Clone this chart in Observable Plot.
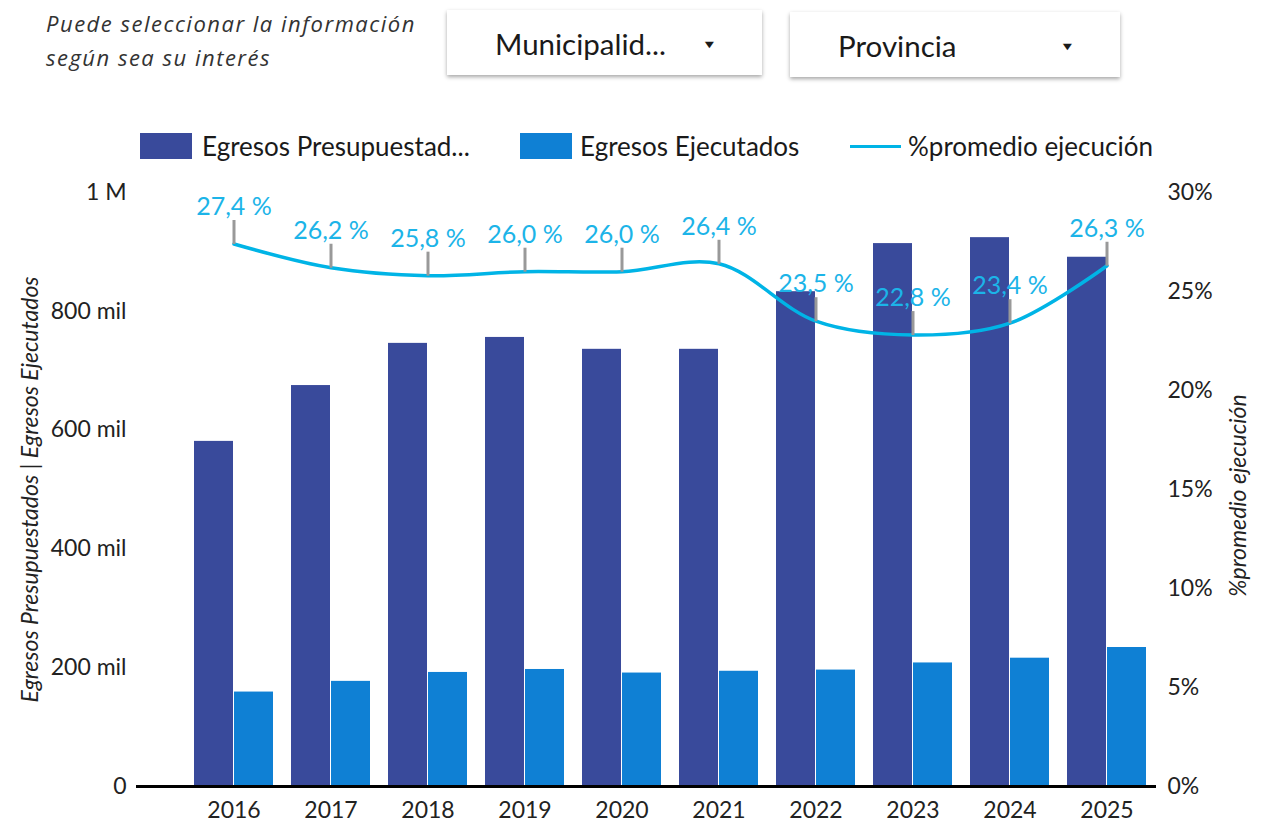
<!DOCTYPE html>
<html>
<head>
<meta charset="utf-8">
<script src="https://cdn.jsdelivr.net/npm/d3@7"></script>
<script src="https://cdn.jsdelivr.net/npm/@observablehq/plot@0.6"></script>
<style>
  html, body { margin: 0; padding: 0; background: #fff; }
  #root { position: relative; width: 1265px; height: 827px; overflow: hidden; font-family: Lato, "Open Sans", sans-serif; }
  .intro { position: absolute; left: 46px; top: 6px; font-family: "Open Sans", sans-serif; font-weight: 400; font-style: italic; font-size: 22px; line-height: 34px; color: #333; letter-spacing: 1.5px; white-space: nowrap; }
  .dd { position: absolute; background: #fff; box-shadow: 0 2px 4px rgba(0,0,0,0.35); font-size: 29.5px; color: #1a1a1a; }
  .dd .t { position: absolute; top: 50%; transform: translateY(-50%); white-space: nowrap; }
  .dd .a { position: absolute; top: 50%; transform: translateY(-50%) scaleX(1.4); font-size: 11px; }
  .legend { position: absolute; top: 130px; left: 0; height: 32px; font-size: 26px; color: #1a1a1a; }
  .legend .sw { position: absolute; top: 3px; width: 52px; height: 26px; }
  .legend .ln { position: absolute; top: 15px; width: 51px; height: 3px; }
  .legend .lb { position: absolute; top: 0; line-height: 32px; white-space: nowrap; }
  #chart { position: absolute; left: 0; top: 170px; }
</style>
</head>
<body>
<div id="root">
  <div class="intro">Puede seleccionar la información<br>según sea su interés</div>
  <div class="dd" style="left:447px;top:10px;width:315px;height:65px;"><span class="t" style="left:48px;">Municipalid...</span><span class="a" style="left:257px;">&#9660;</span></div>
  <div class="dd" style="left:790px;top:12px;width:330px;height:65px;"><span class="t" style="left:48px;">Provincia</span><span class="a" style="left:272px;">&#9660;</span></div>
  <div class="legend">
    <div class="sw" style="left:140px;background:#394a9b;"></div>
    <div class="lb" style="left:202px;">Egresos Presupuestad...</div>
    <div class="sw" style="left:520px;background:#0f80d4;"></div>
    <div class="lb" style="left:580px;">Egresos Ejecutados</div>
    <div class="ln" style="left:850px;background:#00b4e6;"></div>
    <div class="lb" style="left:908px;">%promedio ejecución</div>
  </div>
  <div id="chart"></div>
</div>
<script>
const years = ["2016","2017","2018","2019","2020","2021","2022","2023","2024","2025"];
const presupuestados = [581000, 675000, 746000, 756000, 736000, 736000, 833000, 914000, 924000, 891000];
const ejecutados = [159000, 177000, 192000, 197000, 191000, 194000, 196000, 208000, 216000, 234000];
const pctEjecucion = [27.4, 26.2, 25.8, 26.0, 26.0, 26.4, 23.5, 22.8, 23.4, 26.3];
const leftTicks = [0, 200000, 400000, 600000, 800000, 1000000];
const rightTicks = [0, 5, 10, 15, 20, 25, 30];
const pctMax = 30;
const yMax = 1000000;

const colorPres = "#394a9b";
const colorEjec = "#0f80d4";
const colorLine = "#00b4e6";

const rows = years.map((year, i) => ({
  year,
  pres: presupuestados[i],
  ejec: ejecutados[i],
  pct: pctEjecucion[i],
  pctY: pctEjecucion[i] / pctMax * yMax
}));

const tickSymbol = { draw(ctx) { ctx.moveTo(0, 0); ctx.lineTo(0, -24); } };

const chart = Plot.plot({
  width: 1265,
  height: 657,
  marginLeft: 136,
  marginRight: 109,
  marginTop: 22,
  marginBottom: 41,
  style: { fontFamily: "Lato, 'Open Sans', sans-serif", fontSize: "23px", color: "#222", background: "transparent" },
  x: { domain: years, paddingInner: 0.187, paddingOuter: 0.0935, insetLeft: 48, label: null },
  y: { domain: [0, yMax], label: null },
  marks: [
    Plot.barY(rows, { x: "year", y: "pres", fill: colorPres, insetRight: 40, insetLeft: 0 }),
    Plot.barY(rows, { x: "year", y: "ejec", fill: colorEjec, insetLeft: 40, insetRight: 0 }),
    Plot.ruleY([0], { stroke: "#000", strokeWidth: 3 }),
    Plot.line(rows, { x: "year", y: "pctY", stroke: colorLine, strokeWidth: 3.5, curve: "catmull-rom" }),
    Plot.dot(rows, { x: "year", y: "pctY", symbol: tickSymbol, stroke: "#999", strokeWidth: 3, fill: "none" }),
    Plot.text(rows, { x: "year", y: "pctY", text: d => d.pct.toFixed(1).replace(".", ",") + " %", dy: -37, fill: "#1cb4e8", fontSize: 25, stroke: "none" }),
    Plot.axisX({ tickSize: 0, tickPadding: 15, label: null, fontSize: 23 }),
    Plot.axisY(leftTicks, { anchor: "left", tickSize: 0, tickPadding: 10, label: null, fontSize: 23,
      tickFormat: v => v === 0 ? "0" : v >= 1000000 ? (v / 1000000) + " M" : (v / 1000) + " mil" }),
    Plot.axisY(rightTicks.map(p => p / pctMax * yMax), { anchor: "right", tickSize: 0, tickPadding: 11, label: null, fontSize: 23,
      tickFormat: v => Math.round(v / yMax * pctMax) + "%" }),
    Plot.text(["Egresos Presupuestados | Egresos Ejecutados"], { frameAnchor: "left", dx: -106, rotate: -90, textAnchor: "middle", fontStyle: "italic", fontSize: 23, fill: "#222" }),
    Plot.text(["%promedio ejecución"], { frameAnchor: "right", dx: 82, dy: 6, rotate: -90, textAnchor: "middle", fontStyle: "italic", fontSize: 23, fill: "#222" })
  ]
});
document.getElementById("chart").appendChild(chart);
</script>
</body>
</html>
